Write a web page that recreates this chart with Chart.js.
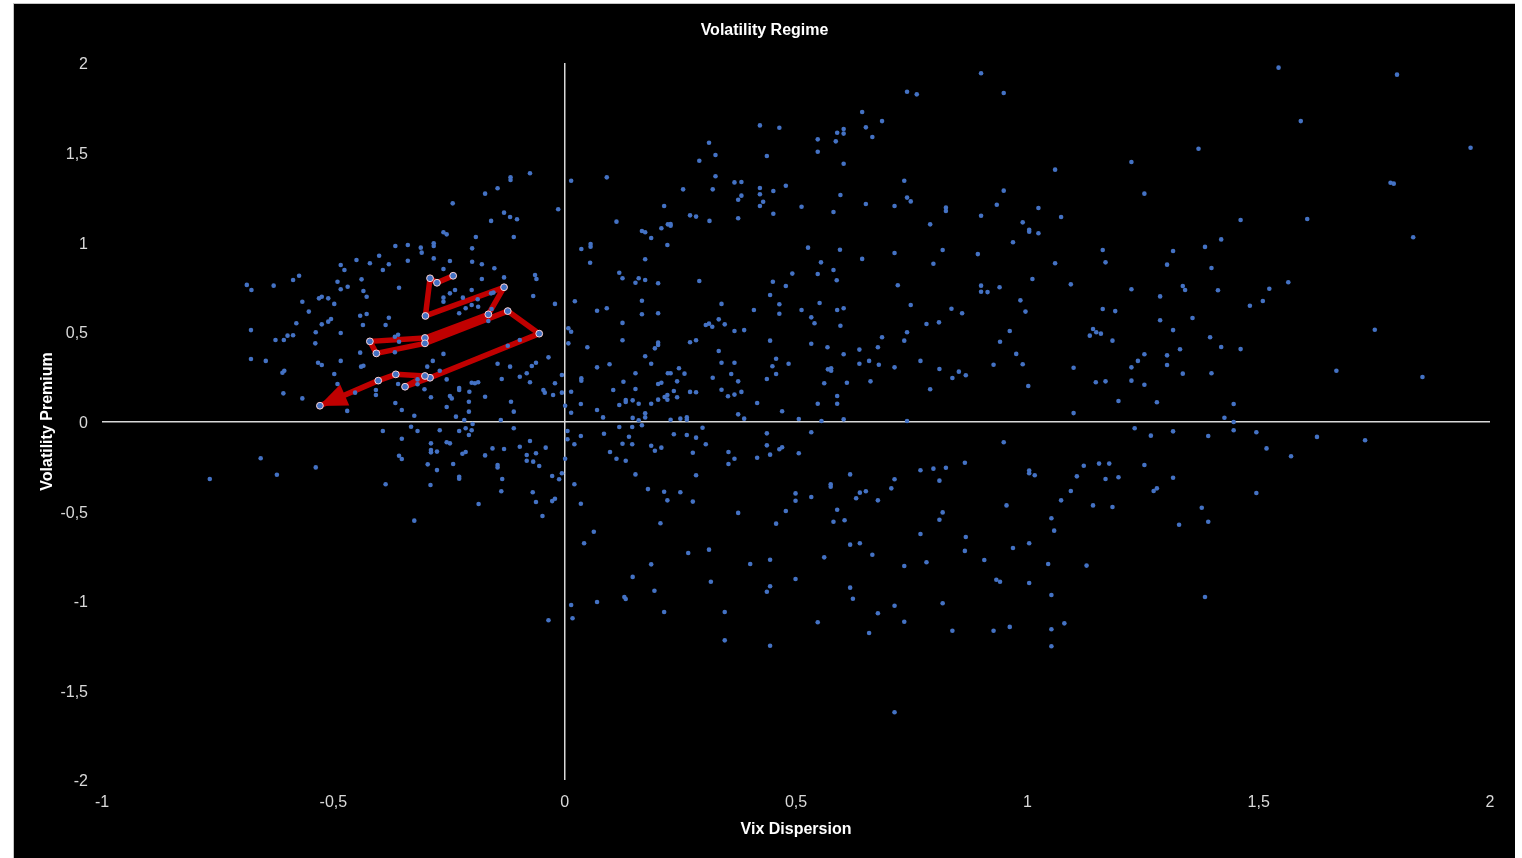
<!DOCTYPE html>
<html>
<head>
<meta charset="utf-8">
<script src="https://cdn.jsdelivr.net/npm/chart.js@4.4.1/dist/chart.umd.min.js"></script>
<style>
  html, body { margin: 0; padding: 0; background: #ffffff; overflow: hidden; }
  #frame { position: absolute; left: 13px; top: 3px; width: 1501px; height: 854px; background: #000000;
           border-left: 1px solid #c4c4c4; border-top: 1px solid #c4c4c4; }
  canvas { display: block; }
</style>
</head>
<body>
<div id="frame"><canvas id="chart" width="1501" height="854"></canvas></div>
<script>
// ---- Data (Vix Dispersion, Volatility Premium) ----
const upperLeftCluster = [
  [-0.075,1.385],[-0.117,1.362],[-0.117,1.347],[-0.145,1.301],[-0.172,1.271],[-0.014,1.184],[-0.242,1.217],[-0.131,1.165],[-0.118,1.141],[-0.103,1.128],
  [-0.159,1.119],[-0.262,1.056],[-0.255,1.044],[-0.192,1.029],[-0.110,1.029],[-0.366,0.979],[-0.339,0.985],[-0.311,0.970],[-0.309,0.942],[-0.283,0.994],
  [-0.283,0.979],[-0.200,0.966],[-0.401,0.925],[-0.450,0.901],[-0.421,0.883],[-0.380,0.877],[-0.339,0.897],[-0.283,0.910],[-0.248,0.895],[-0.200,0.891],
  [-0.179,0.877],[-0.484,0.873],[-0.476,0.845],[-0.393,0.845],[-0.262,0.851],[-0.152,0.855],[-0.574,0.813],[-0.587,0.789],[-0.439,0.793],[-0.491,0.780],
  [-0.358,0.746],[-0.469,0.752],[-0.484,0.738],[-0.435,0.728],[-0.428,0.696],[-0.179,0.795],[-0.131,0.804],[-0.064,0.817],[-0.061,0.795],[-0.687,0.762],
  [-0.677,0.734],[-0.629,0.758],[-0.237,0.734],[-0.248,0.715],[-0.201,0.734],[-0.262,0.691],[-0.262,0.668],[-0.220,0.691],[-0.188,0.682],[-0.159,0.715],
  [-0.154,0.719],[-0.068,0.700],[-0.021,0.656],[-0.525,0.696],[-0.531,0.687],[-0.511,0.687],[-0.567,0.668],[-0.498,0.656],[-0.553,0.613],[-0.442,0.590],
  [-0.428,0.600],[-0.380,0.579],[-0.387,0.538],[-0.436,0.538],[-0.505,0.572],[-0.511,0.557],[-0.525,0.542],[-0.580,0.548],[-0.538,0.498],[-0.484,0.494],
  [-0.201,0.650],[-0.187,0.640],[-0.214,0.632],[-0.228,0.604],[-0.165,0.561],[-0.158,0.628],[-0.678,0.510],[-0.599,0.479],[-0.587,0.481],[-0.607,0.455],
  [-0.625,0.455],[-0.367,0.473],[-0.360,0.484],[-0.358,0.445],[-0.539,0.436],[-0.442,0.384],[-0.367,0.386],[-0.262,0.377],[-0.123,0.423],[-0.097,0.455],
  [0.008,0.520],[0.008,0.436],[-0.678,0.349],[-0.646,0.338],[-0.533,0.328],[-0.525,0.315],[-0.484,0.338],[-0.440,0.306],[-0.435,0.311],[-0.606,0.283],
  [-0.610,0.272],[-0.498,0.265],[-0.285,0.338],[-0.297,0.306],[-0.270,0.283],[-0.145,0.322],[-0.118,0.306],[-0.071,0.310],[-0.062,0.328],[-0.035,0.358],
  [-0.082,0.269],[-0.097,0.250],[-0.006,0.259],[-0.136,0.237],[-0.255,0.235],[-0.201,0.216],[-0.194,0.213],[-0.187,0.219],[-0.075,0.219],[-0.021,0.213],
  [-0.491,0.209],[-0.360,0.209],[-0.318,0.208],[-0.318,0.235],[-0.303,0.180],[-0.228,0.187],[-0.228,0.176],[-0.206,0.166],[-0.046,0.176],[-0.043,0.161],
  [-0.006,0.161],[-0.408,0.176],[-0.408,0.148],[-0.608,0.157],[-0.567,0.129],[-0.453,0.161],[-0.289,0.135],[-0.248,0.142],[-0.244,0.129],[-0.172,0.138],
  [-0.025,0.148]
];
const lowerLeftCluster = [
  [-0.470,0.059],[-0.366,0.103],[-0.352,0.064],[-0.325,0.032],[-0.255,0.081],[-0.207,0.110],[-0.207,0.055],[-0.116,0.110],[-0.110,0.055],[-0.235,0.027],
  [-0.217,0.008],[-0.199,-0.014],[-0.138,0.008],[0.001,0.088],[-0.393,-0.053],[-0.332,-0.029],[-0.318,-0.053],[-0.270,-0.049],[-0.228,-0.053],[-0.214,-0.038],
  [-0.201,-0.049],[-0.207,-0.075],[-0.110,-0.038],[0.006,-0.053],[0.006,-0.099],[-0.352,-0.096],[-0.289,-0.122],[-0.255,-0.116],[-0.248,-0.122],[-0.075,-0.109],
  [-0.156,-0.150],[-0.131,-0.153],[-0.097,-0.141],[-0.041,-0.146],[-0.289,-0.159],[-0.289,-0.172],[-0.276,-0.168],[-0.221,-0.180],[-0.214,-0.170],[-0.172,-0.189],
  [-0.082,-0.187],[-0.062,-0.177],[-0.358,-0.191],[-0.352,-0.209],[0.001,-0.208],[-0.082,-0.219],[-0.068,-0.224],[-0.055,-0.248],[-0.657,-0.205],[-0.538,-0.256],
  [-0.622,-0.297],[-0.767,-0.321],[-0.296,-0.239],[-0.241,-0.237],[-0.145,-0.243],[-0.145,-0.256],[-0.276,-0.271],[-0.228,-0.308],[-0.228,-0.319],[-0.135,-0.321],
  [-0.027,-0.304],[-0.012,-0.322],[-0.006,-0.289],[-0.387,-0.350],[-0.290,-0.354],[-0.137,-0.389],[-0.069,-0.395],[-0.062,-0.449],[-0.027,-0.444],[-0.021,-0.431],
  [-0.186,-0.460],[-0.048,-0.527],[-0.325,-0.553],[-0.035,-1.109]
];
const upperCenterCluster = [
  [0.643,1.727],[0.422,1.652],[0.464,1.639],[0.651,1.641],[0.665,1.587],[0.589,1.611],[0.603,1.632],[0.603,1.606],[0.547,1.574],[0.586,1.563],
  [0.312,1.555],[0.547,1.505],[0.326,1.487],[0.437,1.481],[0.291,1.455],[0.603,1.438],[0.014,1.343],[0.091,1.362],[0.326,1.368],[0.367,1.334],
  [0.382,1.336],[0.256,1.295],[0.320,1.295],[0.422,1.303],[0.422,1.268],[0.451,1.286],[0.478,1.315],[0.382,1.260],[0.375,1.237],[0.429,1.226],
  [0.422,1.202],[0.596,1.264],[0.651,1.213],[0.215,1.202],[0.512,1.198],[0.581,1.169],[0.451,1.159],[0.271,1.150],[0.284,1.143],[0.313,1.119],
  [0.375,1.134],[0.112,1.115],[0.223,1.100],[0.229,1.102],[0.229,1.092],[0.209,1.078],[0.167,1.063],[0.174,1.056],[0.187,1.024],[0.222,0.985],
  [0.036,0.962],[0.056,0.990],[0.056,0.975],[0.526,0.970],[0.595,0.958],[0.643,0.907],[0.174,0.905],[0.055,0.886],[0.554,0.888],[0.581,0.845],
  [0.547,0.823],[0.588,0.788],[0.492,0.825],[0.118,0.830],[0.125,0.799],[0.160,0.799],[0.153,0.774],[0.174,0.789],[0.202,0.771],[0.291,0.784],
  [0.450,0.780],[0.478,0.756],[0.444,0.706],[0.022,0.671],[0.167,0.674],[0.339,0.656],[0.464,0.654],[0.551,0.661],[0.070,0.618],[0.091,0.632],
  [0.202,0.604],[0.167,0.598],[0.409,0.622],[0.464,0.601],[0.512,0.622],[0.589,0.622],[0.603,0.632],[0.533,0.581],[0.540,0.548],[0.596,0.534],
  [0.125,0.550],[0.333,0.570],[0.305,0.538],[0.312,0.546],[0.319,0.529],[0.346,0.542],[0.367,0.505],[0.388,0.510],[0.014,0.501],[0.125,0.453],
  [0.271,0.442],[0.284,0.453],[0.444,0.451],[0.533,0.434],[0.568,0.414],[0.202,0.440],[0.202,0.427],[0.195,0.408],[0.049,0.414],[0.333,0.393],
  [0.637,0.401],[0.677,0.414],[0.603,0.375],[0.174,0.364],[0.457,0.350],[0.637,0.322],[0.658,0.338],[0.339,0.328],[0.367,0.328],[0.449,0.308],
  [0.484,0.322],[0.097,0.319],[0.070,0.302],[0.187,0.322],[0.247,0.297],[0.569,0.291],[0.576,0.297],[0.576,0.283],[0.153,0.269],[0.223,0.269],
  [0.229,0.269],[0.259,0.267],[0.360,0.265],[0.457,0.265],[0.036,0.241],[0.036,0.228],[0.320,0.244],[0.437,0.237],[0.127,0.222],[0.243,0.224],
  [0.375,0.224],[0.202,0.209],[0.209,0.216],[0.561,0.213],[0.610,0.216],[0.661,0.224]
];
const lowerCenterCluster = [
  [0.014,0.166],[0.105,0.176],[0.153,0.181],[0.236,0.170],[0.222,0.148],[0.216,0.137],[0.222,0.122],[0.243,0.135],[0.271,0.165],[0.284,0.163],
  [0.339,0.177],[0.353,0.141],[0.367,0.150],[0.382,0.165],[0.035,0.098],[0.118,0.092],[0.132,0.120],[0.132,0.109],[0.147,0.118],[0.160,0.099],
  [0.187,0.099],[0.202,0.122],[0.416,0.103],[0.547,0.099],[0.589,0.142],[0.589,0.099],[0.014,0.049],[0.070,0.064],[0.083,0.023],[0.147,0.020],
  [0.160,0.007],[0.174,0.046],[0.174,0.023],[0.167,-0.021],[0.229,0.010],[0.250,0.016],[0.264,0.023],[0.264,0.010],[0.375,0.040],[0.388,0.016],
  [0.470,0.057],[0.506,0.014],[0.555,0.003],[0.603,0.012],[0.035,-0.081],[0.021,-0.127],[0.118,-0.031],[0.146,-0.031],[0.085,-0.068],[0.139,-0.085],
  [0.125,-0.124],[0.146,-0.127],[0.098,-0.170],[0.112,-0.208],[0.132,-0.219],[0.187,-0.135],[0.195,-0.163],[0.209,-0.146],[0.236,-0.071],[0.264,-0.075],
  [0.284,-0.090],[0.298,-0.035],[0.305,-0.127],[0.277,-0.174],[0.354,-0.170],[0.367,-0.208],[0.354,-0.237],[0.416,-0.202],[0.437,-0.066],[0.437,-0.133],
  [0.444,-0.185],[0.464,-0.155],[0.470,-0.144],[0.506,-0.177],[0.533,-0.060],[0.153,-0.295],[0.284,-0.300],[0.021,-0.350],[0.180,-0.377],[0.215,-0.392],
  [0.222,-0.440],[0.250,-0.395],[0.277,-0.447],[0.035,-0.459],[0.375,-0.510],[0.457,-0.570],[0.478,-0.499],[0.499,-0.401],[0.499,-0.442],[0.533,-0.421],
  [0.575,-0.350],[0.575,-0.364],[0.617,-0.295],[0.589,-0.492],[0.581,-0.559],[0.605,-0.551],[0.630,-0.428],[0.638,-0.397],[0.651,-0.389],[0.677,-0.440],
  [0.207,-0.568],[0.063,-0.615],[0.042,-0.679],[0.267,-0.734],[0.312,-0.715],[0.187,-0.797],[0.401,-0.795],[0.444,-0.771],[0.561,-0.758],[0.617,-0.687],
  [0.638,-0.679],[0.665,-0.743],[0.147,-0.867],[0.316,-0.894],[0.499,-0.879],[0.194,-0.944],[0.129,-0.979],[0.132,-0.990],[0.444,-0.919],[0.437,-0.950],
  [0.617,-0.927],[0.623,-0.989],[0.014,-1.024],[0.070,-1.007],[0.017,-1.098],[0.215,-1.063],[0.346,-1.063],[0.547,-1.120],[0.677,-1.070],[0.658,-1.180],
  [0.346,-1.221],[0.444,-1.251]
];
const upperRightCluster = [
  [0.900,1.943],[0.740,1.840],[0.761,1.825],[0.949,1.833],[0.686,1.676],[1.060,1.405],[1.225,1.448],[1.253,1.271],[0.734,1.343],[0.740,1.249],
  [0.748,1.228],[0.713,1.202],[0.824,1.193],[0.824,1.174],[0.900,1.148],[0.949,1.288],[0.934,1.209],[1.024,1.191],[1.073,1.141],[0.790,1.100],
  [0.990,1.111],[1.004,1.070],[1.004,1.059],[1.024,1.050],[0.969,1.000],[0.713,0.940],[0.817,0.957],[0.797,0.880],[0.893,0.934],[1.060,0.883],
  [1.163,0.957],[1.169,0.888],[1.315,0.951],[1.302,0.875],[0.720,0.760],[0.900,0.758],[0.900,0.724],[0.914,0.722],[0.940,0.749],[1.011,0.795],
  [1.094,0.765],[1.225,0.738],[1.287,0.698],[1.336,0.756],[1.341,0.734],[0.748,0.650],[0.836,0.629],[0.859,0.604],[0.985,0.676],[0.996,0.613],
  [1.163,0.628],[1.190,0.616],[1.287,0.565],[1.315,0.510],[0.782,0.544],[0.809,0.553],[0.686,0.470],[0.740,0.498],[0.734,0.451],[0.962,0.505],
  [0.941,0.445],[1.142,0.516],[1.149,0.498],[1.159,0.490],[1.135,0.479],[1.184,0.451],[0.679,0.317],[0.713,0.302],[0.769,0.338],[0.810,0.293],
  [0.852,0.278],[0.838,0.243],[0.867,0.258],[0.927,0.317],[0.976,0.377],[0.990,0.319],[1.002,0.198],[1.100,0.300],[1.148,0.219],[1.169,0.224],
  [1.225,0.302],[1.225,0.228],[1.239,0.338],[1.253,0.375],[1.253,0.205],[1.302,0.369],[1.302,0.315],[1.330,0.403],[1.336,0.267],[0.790,0.180]
];
const lowerRightCluster = [
  [1.197,0.114],[1.280,0.107],[1.100,0.047],[0.740,0.003],[1.232,-0.038],[1.267,-0.079],[1.315,-0.055],[0.949,-0.116],[0.865,-0.230],[0.769,-0.272],
  [0.797,-0.263],[0.824,-0.258],[0.810,-0.330],[0.713,-0.322],[0.706,-0.373],[1.004,-0.274],[1.004,-0.289],[1.016,-0.300],[1.122,-0.247],[1.155,-0.235],
  [1.177,-0.235],[1.107,-0.306],[1.169,-0.321],[1.197,-0.311],[1.253,-0.243],[1.315,-0.314],[1.280,-0.373],[1.273,-0.388],[1.094,-0.388],[1.073,-0.440],
  [1.142,-0.468],[1.184,-0.477],[0.955,-0.468],[0.817,-0.507],[0.810,-0.548],[1.052,-0.540],[1.058,-0.609],[1.328,-0.576],[0.769,-0.628],[0.867,-0.644],
  [0.865,-0.722],[0.969,-0.706],[1.004,-0.679],[0.734,-0.806],[0.782,-0.785],[0.907,-0.773],[1.045,-0.795],[1.128,-0.804],[0.933,-0.883],[0.941,-0.894],
  [1.004,-0.901],[1.052,-0.968],[0.713,-1.028],[0.817,-1.014],[0.734,-1.117],[0.838,-1.167],[0.927,-1.167],[0.962,-1.146],[1.052,-1.159],[1.080,-1.126],
  [1.052,-1.254],[0.713,-1.622]
];
const farRightCluster = [
  [1.799,1.935],[1.543,1.974],[1.958,1.527],[1.591,1.676],[1.370,1.522],[1.785,1.332],[1.792,1.327],[1.461,1.124],[1.605,1.130],[1.834,1.028],
  [1.419,1.016],[1.384,0.974],[1.398,0.856],[1.564,0.777],[1.523,0.741],[1.412,0.732],[1.481,0.646],[1.509,0.672],[1.357,0.577],[1.751,0.512],
  [1.395,0.470],[1.419,0.416],[1.461,0.404],[1.398,0.269],[1.668,0.283],[1.854,0.248],[1.446,0.098],[1.426,0.021],[1.446,-0.003],[1.446,-0.049],
  [1.391,-0.081],[1.495,-0.060],[1.517,-0.150],[1.570,-0.194],[1.626,-0.086],[1.730,-0.105],[1.495,-0.399],[1.377,-0.481],[1.391,-0.559],[1.384,-0.979]
];
// Recent trajectory (red path, ends at the arrow)
const pathDispersion = [-0.241,-0.276,-0.291,-0.301,-0.131,-0.165,-0.302,-0.421,-0.407,-0.302,-0.123,-0.055,-0.291,-0.345,-0.302,-0.365,-0.403,-0.529];
const pathPremium    = [ 0.813, 0.774, 0.799, 0.589, 0.749, 0.598, 0.466, 0.447, 0.380, 0.436, 0.616, 0.490, 0.244, 0.194, 0.254, 0.263, 0.228, 0.088];
// Axis ticks
const xTickValues = [-1, -0.5, 0, 0.5, 1, 1.5, 2];
const xTickLabels = ['-1', '-0,5', '0', '0,5', '1', '1,5', '2'];
const yTickValues = [-2, -1.5, -1, -0.5, 0, 0.5, 1, 1.5, 2];
const yTickLabels = ['-2', '-1,5', '-1', '-0,5', '0', '0,5', '1', '1,5', '2'];

// ---- Build chart ----
const FONT = "'Liberation Sans', Arial, Helvetica, sans-serif";
const toPts = arr => arr.map(p => ({ x: p[0], y: p[1] }));
const cloud = [].concat(upperLeftCluster, lowerLeftCluster, upperCenterCluster, lowerCenterCluster,
                        upperRightCluster, lowerRightCluster, farRightCluster);
const pathPts = pathDispersion.map((x, i) => ({ x: x, y: pathPremium[i] }));

const arrowHead = {
  id: 'arrowHead',
  beforeDatasetDraw(chart, args) {
    if (args.index !== 1) return;
    const pts = args.meta.data;
    const n = pts.length;
    if (n < 2) return;
    const a = pts[n - 2], b = pts[n - 1];
    const dx = b.x - a.x, dy = b.y - a.y;
    const len = Math.hypot(dx, dy) || 1;
    const ux = dx / len, uy = dy / len;
    const L = 28, W = 11.5;
    const tx = b.x + ux * 1, ty = b.y + uy * 1;
    const bx = tx - ux * L, by = ty - uy * L;
    const ctx = chart.ctx;
    ctx.save();
    ctx.beginPath();
    ctx.moveTo(tx, ty);
    ctx.lineTo(bx - uy * W, by + ux * W);
    ctx.lineTo(bx + uy * W, by - ux * W);
    ctx.closePath();
    ctx.fillStyle = '#c00000';
    ctx.fill();
    ctx.restore();
  }
};

const zeroGrid = c => (c.tick && c.tick.value === 0) ? '#d9d9d9' : 'rgba(0,0,0,0)';

new Chart(document.getElementById('chart'), {
  type: 'scatter',
  data: {
    datasets: [
      {
        label: 'Regime',
        data: toPts(cloud),
        order: 0,
        pointRadius: 2.3,
        pointHoverRadius: 2.3,
        pointBackgroundColor: '#4472c4',
        pointBorderWidth: 0,
        showLine: false
      },
      {
        label: 'Path',
        data: pathPts,
        order: 1,
        showLine: true,
        borderColor: '#c00000',
        borderWidth: 5.5,
        borderJoinStyle: 'round',
        borderCapStyle: 'round',
        tension: 0,
        pointRadius: 3.4,
        pointHoverRadius: 3.4,
        pointBackgroundColor: '#4472c4',
        pointBorderColor: '#ffd4d4',
        pointBorderWidth: 1
      }
    ]
  },
  options: {
    responsive: false,
    animation: false,
    events: [],
    layout: { padding: { left: 25, right: 25, top: 0, bottom: 0 } },
    plugins: {
      legend: { display: false },
      tooltip: { enabled: false },
      title: {
        display: true,
        text: 'Volatility Regime',
        color: '#ffffff',
        font: { family: FONT, size: 16, weight: 'bold' },
        padding: { top: 17.4, bottom: 22.4 }
      }
    },
    scales: {
      x: {
        type: 'linear',
        min: -1, max: 2,
        afterBuildTicks: s => { s.ticks = xTickValues.map(v => ({ value: v })); },
        afterFit: s => { s.height = 78; },
        ticks: {
          color: '#d9d9d9',
          font: { family: FONT, size: 16 },
          padding: 13,
          maxRotation: 0,
          autoSkip: false,
          callback: (v, i) => xTickLabels[i]
        },
        grid: { color: zeroGrid, lineWidth: 1.5, drawTicks: false },
        border: { display: false },
        title: {
          display: true,
          text: 'Vix Dispersion',
          color: '#ffffff',
          font: { family: FONT, size: 16, weight: 'bold' },
          padding: { top: 0, bottom: 18.4 }
        }
      },
      y: {
        type: 'linear',
        min: -2, max: 2,
        afterBuildTicks: s => { s.ticks = yTickValues.map(v => ({ value: v })); },
        afterFit: s => { s.width = 63; },
        ticks: {
          color: '#d9d9d9',
          font: { family: FONT, size: 16 },
          padding: 14,
          labelOffset: 2,
          autoSkip: false,
          callback: (v, i) => yTickLabels[i]
        },
        grid: { color: zeroGrid, lineWidth: 1.5, drawTicks: false },
        border: { display: false },
        title: {
          display: true,
          text: 'Volatility Premium',
          color: '#ffffff',
          font: { family: FONT, size: 16, weight: 'bold' },
          padding: { top: -0.6, bottom: 0 }
        }
      }
    }
  },
  plugins: [arrowHead]
});
</script>
</body>
</html>
